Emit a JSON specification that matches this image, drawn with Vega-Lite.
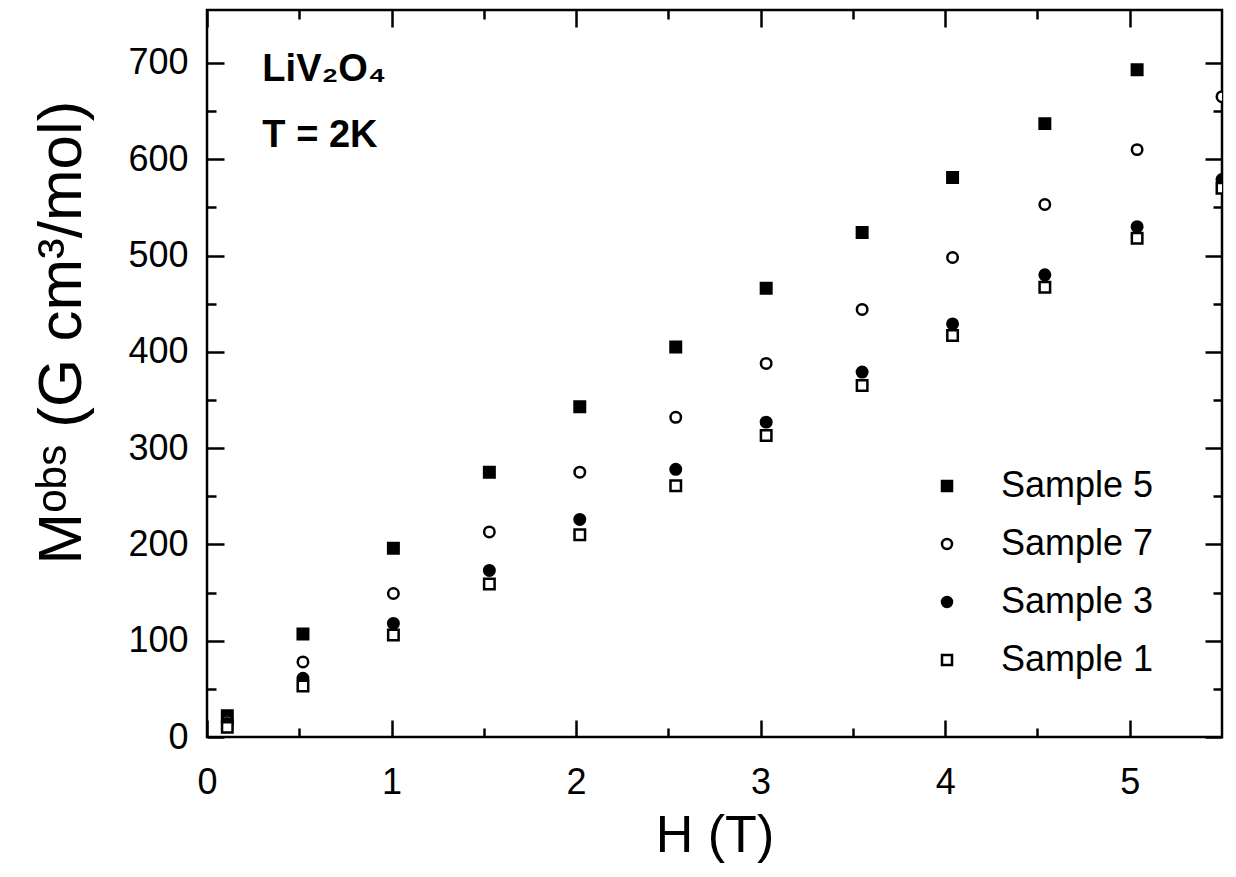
{
  "$schema": "https://vega.github.io/schema/vega-lite/v6.json",
  "width": 1015,
  "height": 727,
  "autosize": {"type": "none"},
  "padding": {"left": 207, "top": 10, "right": 14, "bottom": 140},
  "background": "white",
  "config": {
    "view": {"stroke": "black", "strokeWidth": 2.5},
    "font": "Liberation Sans",
    "axis": {
      "domain": false,
      "grid": false,
      "tickColor": "black",
      "tickWidth": 2.5,
      "labelColor": "black",
      "titleColor": "black",
      "labelFont": "Liberation Sans",
      "titleFont": "Liberation Sans",
      "labelFontSize": 36,
      "titleFontSize": 52,
      "titleFontWeight": "normal",
      "labelFlush": false,
      "labelOverlap": false
    }
  },
  "datasets": {
    "pts": [
      {"H": 0.11, "M": 22, "sample": "Sample 5"},
      {"H": 0.52, "M": 107, "sample": "Sample 5"},
      {"H": 1.01, "M": 196, "sample": "Sample 5"},
      {"H": 1.53, "M": 275, "sample": "Sample 5"},
      {"H": 2.02, "M": 343, "sample": "Sample 5"},
      {"H": 2.54, "M": 405, "sample": "Sample 5"},
      {"H": 3.03, "M": 466, "sample": "Sample 5"},
      {"H": 3.55, "M": 524, "sample": "Sample 5"},
      {"H": 4.04, "M": 581, "sample": "Sample 5"},
      {"H": 4.54, "M": 637, "sample": "Sample 5"},
      {"H": 5.04, "M": 693, "sample": "Sample 5"},
      {"H": 0.11, "M": 17, "sample": "Sample 7"},
      {"H": 0.52, "M": 78, "sample": "Sample 7"},
      {"H": 1.01, "M": 149, "sample": "Sample 7"},
      {"H": 1.53, "M": 213, "sample": "Sample 7"},
      {"H": 2.02, "M": 275, "sample": "Sample 7"},
      {"H": 2.54, "M": 332, "sample": "Sample 7"},
      {"H": 3.03, "M": 388, "sample": "Sample 7"},
      {"H": 3.55, "M": 444, "sample": "Sample 7"},
      {"H": 4.04, "M": 498, "sample": "Sample 7"},
      {"H": 4.54, "M": 553, "sample": "Sample 7"},
      {"H": 5.04, "M": 610, "sample": "Sample 7"},
      {"H": 5.5, "M": 665, "sample": "Sample 7"},
      {"H": 0.11, "M": 14, "sample": "Sample 3"},
      {"H": 0.52, "M": 61, "sample": "Sample 3"},
      {"H": 1.01, "M": 118, "sample": "Sample 3"},
      {"H": 1.53, "M": 173, "sample": "Sample 3"},
      {"H": 2.02, "M": 226, "sample": "Sample 3"},
      {"H": 2.54, "M": 278, "sample": "Sample 3"},
      {"H": 3.03, "M": 327, "sample": "Sample 3"},
      {"H": 3.55, "M": 379, "sample": "Sample 3"},
      {"H": 4.04, "M": 429, "sample": "Sample 3"},
      {"H": 4.54, "M": 480, "sample": "Sample 3"},
      {"H": 5.04, "M": 530, "sample": "Sample 3"},
      {"H": 5.5, "M": 579, "sample": "Sample 3"},
      {"H": 0.11, "M": 10, "sample": "Sample 1"},
      {"H": 0.52, "M": 53, "sample": "Sample 1"},
      {"H": 1.01, "M": 106, "sample": "Sample 1"},
      {"H": 1.53, "M": 159, "sample": "Sample 1"},
      {"H": 2.02, "M": 210, "sample": "Sample 1"},
      {"H": 2.54, "M": 261, "sample": "Sample 1"},
      {"H": 3.03, "M": 313, "sample": "Sample 1"},
      {"H": 3.55, "M": 365, "sample": "Sample 1"},
      {"H": 4.04, "M": 417, "sample": "Sample 1"},
      {"H": 4.54, "M": 467, "sample": "Sample 1"},
      {"H": 5.04, "M": 518, "sample": "Sample 1"},
      {"H": 5.5, "M": 570, "sample": "Sample 1"}
    ],
    "notes": [
      {"H": 0.3, "M": 681, "label": "LiV₂O₄"},
      {"H": 0.3, "M": 613, "label": "T = 2K"}
    ]
  },
  "layer": [
    {
      "data": {"name": "pts"},
      "mark": {"type": "point", "opacity": 0},
      "encoding": {
        "x": {"field": "H", "type": "quantitative", "scale": {"domain": [0, 5.5], "nice": false, "zero": false},
          "axis": {"orient": "top", "offset": -727, "values": [0, 1, 2, 3, 4, 5], "tickSize": 17, "labels": false, "title": null}},
        "y": {"field": "M", "type": "quantitative", "scale": {"domain": [0, 755], "nice": false},
          "axis": {"orient": "right", "offset": -1015, "values": [0, 100, 200, 300, 400, 500, 600, 700], "tickSize": 17, "labels": false, "title": null}}
      }
    },
    {
      "data": {"name": "pts"},
      "mark": {"type": "point", "opacity": 0},
      "encoding": {
        "x": {"field": "H", "type": "quantitative", "scale": {"domain": [0, 5.5], "nice": false, "zero": false},
          "axis": {"orient": "top", "offset": -727, "values": [0.5, 1.5, 2.5, 3.5, 4.5], "tickSize": 9, "labels": false, "title": null}},
        "y": {"field": "M", "type": "quantitative", "scale": {"domain": [0, 755], "nice": false},
          "axis": {"orient": "right", "offset": -1015, "values": [50, 150, 250, 350, 450, 550, 650], "tickSize": 9, "labels": false, "title": null}}
      }
    },
    {
      "data": {"name": "pts"},
      "mark": {"type": "point", "opacity": 0},
      "encoding": {
        "x": {"field": "H", "type": "quantitative", "scale": {"domain": [0, 5.5], "nice": false, "zero": false},
          "axis": {"orient": "bottom", "offset": -727, "values": [0, 1, 2, 3, 4, 5], "tickSize": 17, "labels": false, "title": null}},
        "y": {"field": "M", "type": "quantitative", "scale": {"domain": [0, 755], "nice": false},
          "axis": {"orient": "left", "offset": -1015, "values": [0, 100, 200, 300, 400, 500, 600, 700], "tickSize": 17, "labels": false, "title": null}}
      }
    },
    {
      "data": {"name": "pts"},
      "mark": {"type": "point", "opacity": 0},
      "encoding": {
        "x": {"field": "H", "type": "quantitative", "scale": {"domain": [0, 5.5], "nice": false, "zero": false},
          "axis": {"orient": "bottom", "offset": -727, "values": [0.5, 1.5, 2.5, 3.5, 4.5], "tickSize": 9, "labels": false, "title": null}},
        "y": {"field": "M", "type": "quantitative", "scale": {"domain": [0, 755], "nice": false},
          "axis": {"orient": "left", "offset": -1015, "values": [50, 150, 250, 350, 450, 550, 650], "tickSize": 9, "labels": false, "title": null}}
      }
    },
    {
      "data": {"name": "notes"},
      "mark": {"type": "text", "align": "left", "baseline": "alphabetic", "fontSize": 38, "fontWeight": "bold", "font": "Liberation Sans", "color": "black"},
      "encoding": {
        "x": {"field": "H", "type": "quantitative", "scale": {"domain": [0, 5.5], "nice": false, "zero": false}, "axis": null},
        "y": {"field": "M", "type": "quantitative", "scale": {"domain": [0, 755], "nice": false}, "axis": null},
        "text": {"field": "label"}
      }
    },
    {
      "data": {"name": "pts"},
      "mark": {"type": "point", "filled": true, "strokeWidth": 2.5, "size": 110, "opacity": 1, "clip": true},
      "encoding": {
        "x": {"field": "H", "type": "quantitative", "scale": {"domain": [0, 5.5], "nice": false, "zero": false},
          "axis": {"orient": "bottom", "values": [0, 1, 2, 3, 4, 5], "ticks": false, "labelPadding": 28, "title": "H (T)", "titlePadding": 10}},
        "y": {"field": "M", "type": "quantitative", "scale": {"domain": [0, 755], "nice": false},
          "axis": {"orient": "left", "values": [0, 100, 200, 300, 400, 500, 600, 700], "ticks": false, "labelPadding": 19, "title": "Mᵒᵇˢ (G cm³/mol)", "titlePadding": 34, "titleFontSize": 62, "titleY": 322}},
        "shape": {"field": "sample", "type": "nominal",
          "scale": {"domain": ["Sample 5", "Sample 7", "Sample 3", "Sample 1"], "range": ["square", "circle", "circle", "square"]},
          "legend": {"title": null, "orient": "none", "legendX": 722, "legendY": 458, "padding": 0, "labelFontSize": 36, "labelFont": "Liberation Sans", "labelColor": "black", "symbolSize": 100, "symbolStrokeWidth": 2.5, "labelOffset": 36, "rowPadding": 22}},
        "fill": {"field": "sample", "type": "nominal",
          "scale": {"domain": ["Sample 5", "Sample 7", "Sample 3", "Sample 1"], "range": ["black", "white", "black", "white"]},
          "legend": {"title": null, "orient": "none", "legendX": 722, "legendY": 458, "padding": 0, "labelFontSize": 36, "labelFont": "Liberation Sans", "labelColor": "black", "symbolSize": 100, "symbolStrokeWidth": 2.5, "labelOffset": 36, "rowPadding": 22}},
        "stroke": {"field": "sample", "type": "nominal",
          "scale": {"domain": ["Sample 5", "Sample 7", "Sample 3", "Sample 1"], "range": ["black", "black", "black", "black"]},
          "legend": {"title": null, "orient": "none", "legendX": 722, "legendY": 458, "padding": 0, "labelFontSize": 36, "labelFont": "Liberation Sans", "labelColor": "black", "symbolSize": 100, "symbolStrokeWidth": 2.5, "labelOffset": 36, "rowPadding": 22}}
      }
    }
  ],
  "resolve": {"axis": {"x": "independent", "y": "independent"}}
}
